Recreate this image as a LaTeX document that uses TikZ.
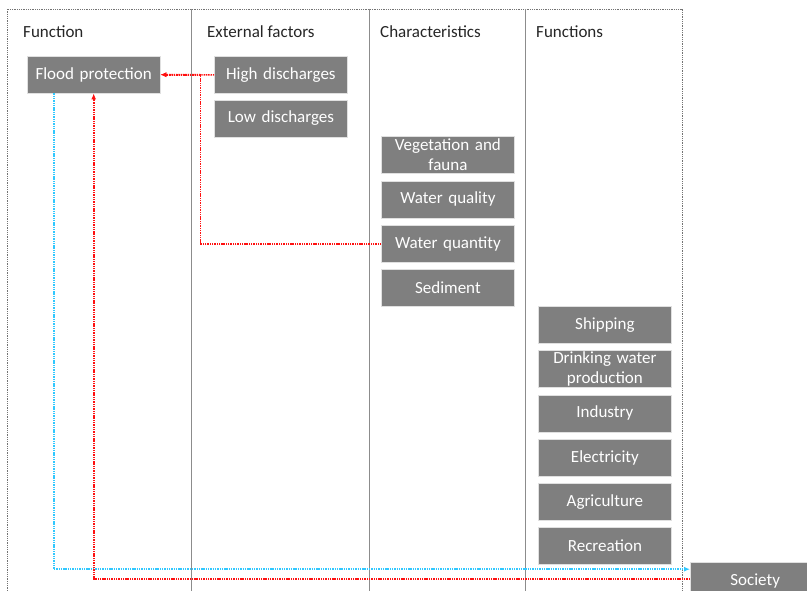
\documentclass[tikz,border=0pt]{standalone}
\usepackage{fontspec}
\setmainfont{Carlito}
\usetikzlibrary{matrix,positioning,arrows.meta}

\definecolor{boxgray}{HTML}{7F7F7F}
\definecolor{linkred}{HTML}{FF1010}
\definecolor{linkblue}{HTML}{30C8FF}

\begin{document}
\begin{tikzpicture}[x=1pt,y=-1pt,
    box/.style={draw=black!12, fill=boxgray, text=white, minimum width=133pt, minimum height=37pt,
        text width=128pt, align=center, inner sep=0pt, font=\fontsize{17}{20}\selectfont},
    heading/.style={anchor=west, inner sep=0pt, text=black!85, font=\fontsize{17}{20}\selectfont},
    link/.style={dash pattern=on 1.4pt off 0.9pt, line width=1.7pt, -{Latex[length=6pt,width=5pt]}}
]
    \useasboundingbox (0,0) rectangle (807,591);

    % frame and columns
    \draw[black!55, densely dotted, line width=0.8pt] (7,591) -- (7,9) -- (682,9) -- (682,591);
    \foreach \x in {191,369,525}
        \draw[black!45, line width=0.8pt] (\x,9) -- (\x,591);

    \node[heading] (function head) at (23,32) {Function};
    \node[heading] (external head) at (207,32) {External factors};
    \node[heading] (characteristics head) at (380,32) {Characteristics};
    \node[heading] (functions head) at (536,32) {Functions};

    \node[box, anchor=north west] (flood protection) at (27,56) {Flood protection};

    \matrix (external factors) [matrix of nodes, nodes={box},
        row sep=6pt, inner sep=0pt, anchor=north west
    ] at (214,56) {
        High discharges \\
        Low discharges \\
    };

    \matrix (characteristics) [matrix of nodes, nodes={box},
        row sep=7pt, inner sep=0pt, anchor=north west
    ] at (381,136) {
        Vegetation~and fauna \\
        Water quality \\
        Water quantity \\
        Sediment \\
    };

    \matrix (functions) [matrix of nodes, nodes={box},
        row sep=6.8pt, inner sep=0pt, anchor=north west
    ] at (538,306) {
        Shipping \\
        Drinking~water production \\
        Industry \\
        Electricity \\
        Agriculture \\
        Recreation \\
    };

    \node[box, minimum width=130pt, anchor=north west] (society) at (690,562) {Society};

    % links
    \draw[link, linkred] (external factors-1-1.west) -- (flood protection.east);
    \draw[link, linkred] (characteristics-3-1.west) -| ([xshift=40pt]flood protection.east) -- (flood protection.east);
    \draw[link, linkblue] ([xshift=-40pt]flood protection.south) |- ([yshift=11.5pt]society.west);
    \draw[link, linkred] ([yshift=1.5pt]society.west) -| (flood protection.south);
\end{tikzpicture}
\end{document}
